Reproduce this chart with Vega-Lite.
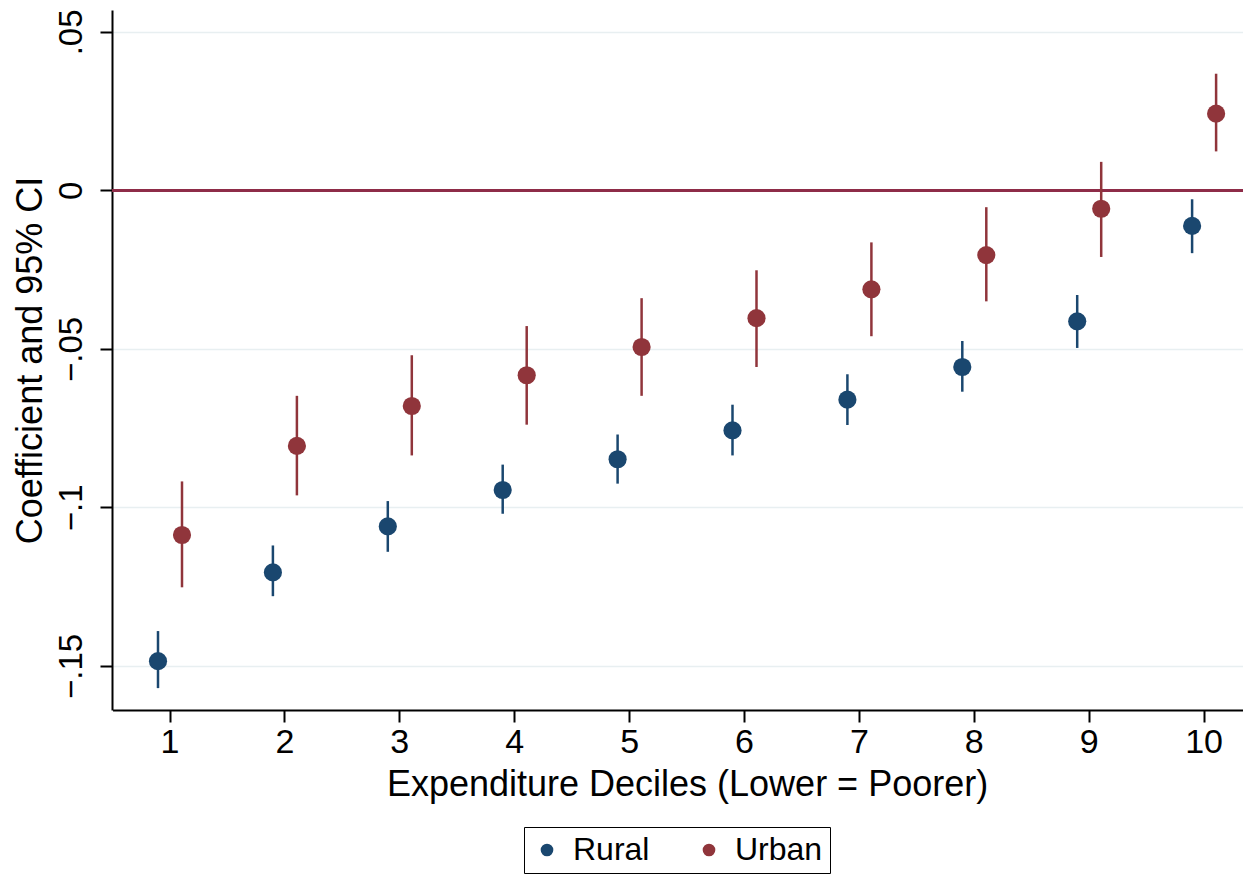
{
  "$schema": "https://vega.github.io/schema/vega-lite/v6.json",
  "width": 1131,
  "height": 700,
  "autosize": {"type": "none"},
  "padding": {"left": 112, "top": 10, "right": 0, "bottom": 174},
  "background": "white",
  "config": {
    "view": {"stroke": null},
    "font": "Liberation Sans"
  },
  "data": {
    "values": [
      {"group": "Rural", "decile": 1, "coef": -0.1485, "lo": -0.157, "hi": -0.139},
      {"group": "Rural", "decile": 2, "coef": -0.1205, "lo": -0.128, "hi": -0.112},
      {"group": "Rural", "decile": 3, "coef": -0.106, "lo": -0.114, "hi": -0.098},
      {"group": "Rural", "decile": 4, "coef": -0.0945, "lo": -0.102, "hi": -0.0865},
      {"group": "Rural", "decile": 5, "coef": -0.0848, "lo": -0.0925, "hi": -0.077},
      {"group": "Rural", "decile": 6, "coef": -0.0757, "lo": -0.0836, "hi": -0.0676},
      {"group": "Rural", "decile": 7, "coef": -0.066, "lo": -0.074, "hi": -0.058},
      {"group": "Rural", "decile": 8, "coef": -0.0557, "lo": -0.0635, "hi": -0.0475},
      {"group": "Rural", "decile": 9, "coef": -0.0413, "lo": -0.0497, "hi": -0.033},
      {"group": "Rural", "decile": 10, "coef": -0.0112, "lo": -0.0198, "hi": -0.0028},
      {"group": "Urban", "decile": 1, "coef": -0.1087, "lo": -0.1252, "hi": -0.0918},
      {"group": "Urban", "decile": 2, "coef": -0.0806, "lo": -0.0962, "hi": -0.0648},
      {"group": "Urban", "decile": 3, "coef": -0.068, "lo": -0.0836, "hi": -0.052},
      {"group": "Urban", "decile": 4, "coef": -0.0583, "lo": -0.0739, "hi": -0.0428},
      {"group": "Urban", "decile": 5, "coef": -0.0494, "lo": -0.0648, "hi": -0.034},
      {"group": "Urban", "decile": 6, "coef": -0.0403, "lo": -0.0557, "hi": -0.0252},
      {"group": "Urban", "decile": 7, "coef": -0.0312, "lo": -0.046, "hi": -0.0164},
      {"group": "Urban", "decile": 8, "coef": -0.0204, "lo": -0.035, "hi": -0.0053},
      {"group": "Urban", "decile": 9, "coef": -0.0058, "lo": -0.021, "hi": 0.009},
      {"group": "Urban", "decile": 10, "coef": 0.0242, "lo": 0.0123, "hi": 0.0368}
    ]
  },
  "encoding": {
    "x": {
      "field": "decile", "type": "ordinal",
      "scale": {"type": "band", "paddingInner": 0, "paddingOuter": 0, "range": [0.55, 1149.55]},
      "axis": {
        "title": "Expenditure Deciles (Lower = Poorer)",
        "grid": false, "labelAngle": 0,
        "domainColor": "#000000", "domainWidth": 2,
        "tickColor": "#000000", "tickWidth": 2, "tickSize": 12,
        "labelFontSize": 34, "labelColor": "#000000", "labelPadding": 3,
        "titleFontSize": 36, "titleFontWeight": "normal", "titleColor": "#000000", "titlePadding": 8
      }
    },
    "xOffset": {
      "field": "group", "type": "nominal",
      "scale": {"type": "band", "paddingInner": 0, "paddingOuter": 0, "range": [33.45, 81.45]}
    },
    "color": {
      "field": "group", "type": "nominal",
      "scale": {"domain": ["Rural", "Urban"], "range": ["#1a476f", "#90353b"]},
      "legend": {
        "title": null, "orient": "none", "direction": "horizontal",
        "legendX": 412, "legendY": 817,
        "strokeColor": "#000000", "padding": 7,
        "symbolType": "circle", "symbolSize": 160, "symbolStrokeWidth": 0,
        "labelFontSize": 32, "labelColor": "#000000", "labelOffset": 10,
        "columnPadding": 43
      }
    }
  },
  "layer": [
    {
      "mark": {"type": "rule", "color": "#8e2c48", "strokeWidth": 2},
      "encoding": {
        "x": null, "xOffset": null, "color": null,
        "y": {"datum": 0, "type": "quantitative"}
      }
    },
    {
      "mark": {"type": "rule", "strokeWidth": 2.5},
      "encoding": {
        "y": {"field": "lo", "type": "quantitative"},
        "y2": {"field": "hi"}
      }
    },
    {
      "mark": {"type": "point", "filled": true, "shape": "circle", "size": 330, "opacity": 1},
      "encoding": {
        "y": {
          "field": "coef", "type": "quantitative",
          "scale": {"domain": [-0.1639, 0.0569], "nice": false, "zero": false},
          "axis": {
            "values": [-0.15, -0.1, -0.05, 0, 0.05],
            "labelExpr": "datum.value == 0 ? '0' : replace(format(datum.value, '.2~f'), '0.', '.')",
            "title": "Coefficient and 95% CI",
            "grid": true, "gridColor": "#e8eff1", "gridWidth": 1.5,
            "domainColor": "#000000", "domainWidth": 2,
            "tickColor": "#000000", "tickWidth": 2, "tickSize": 12,
            "labelAngle": -90, "labelAlign": "center", "labelBaseline": "bottom",
            "labelFontSize": 33, "labelColor": "#000000", "labelPadding": 12,
            "titleFontSize": 36, "titleFontWeight": "normal", "titleColor": "#000000", "titlePadding": 6
          }
        }
      }
    }
  ]
}
